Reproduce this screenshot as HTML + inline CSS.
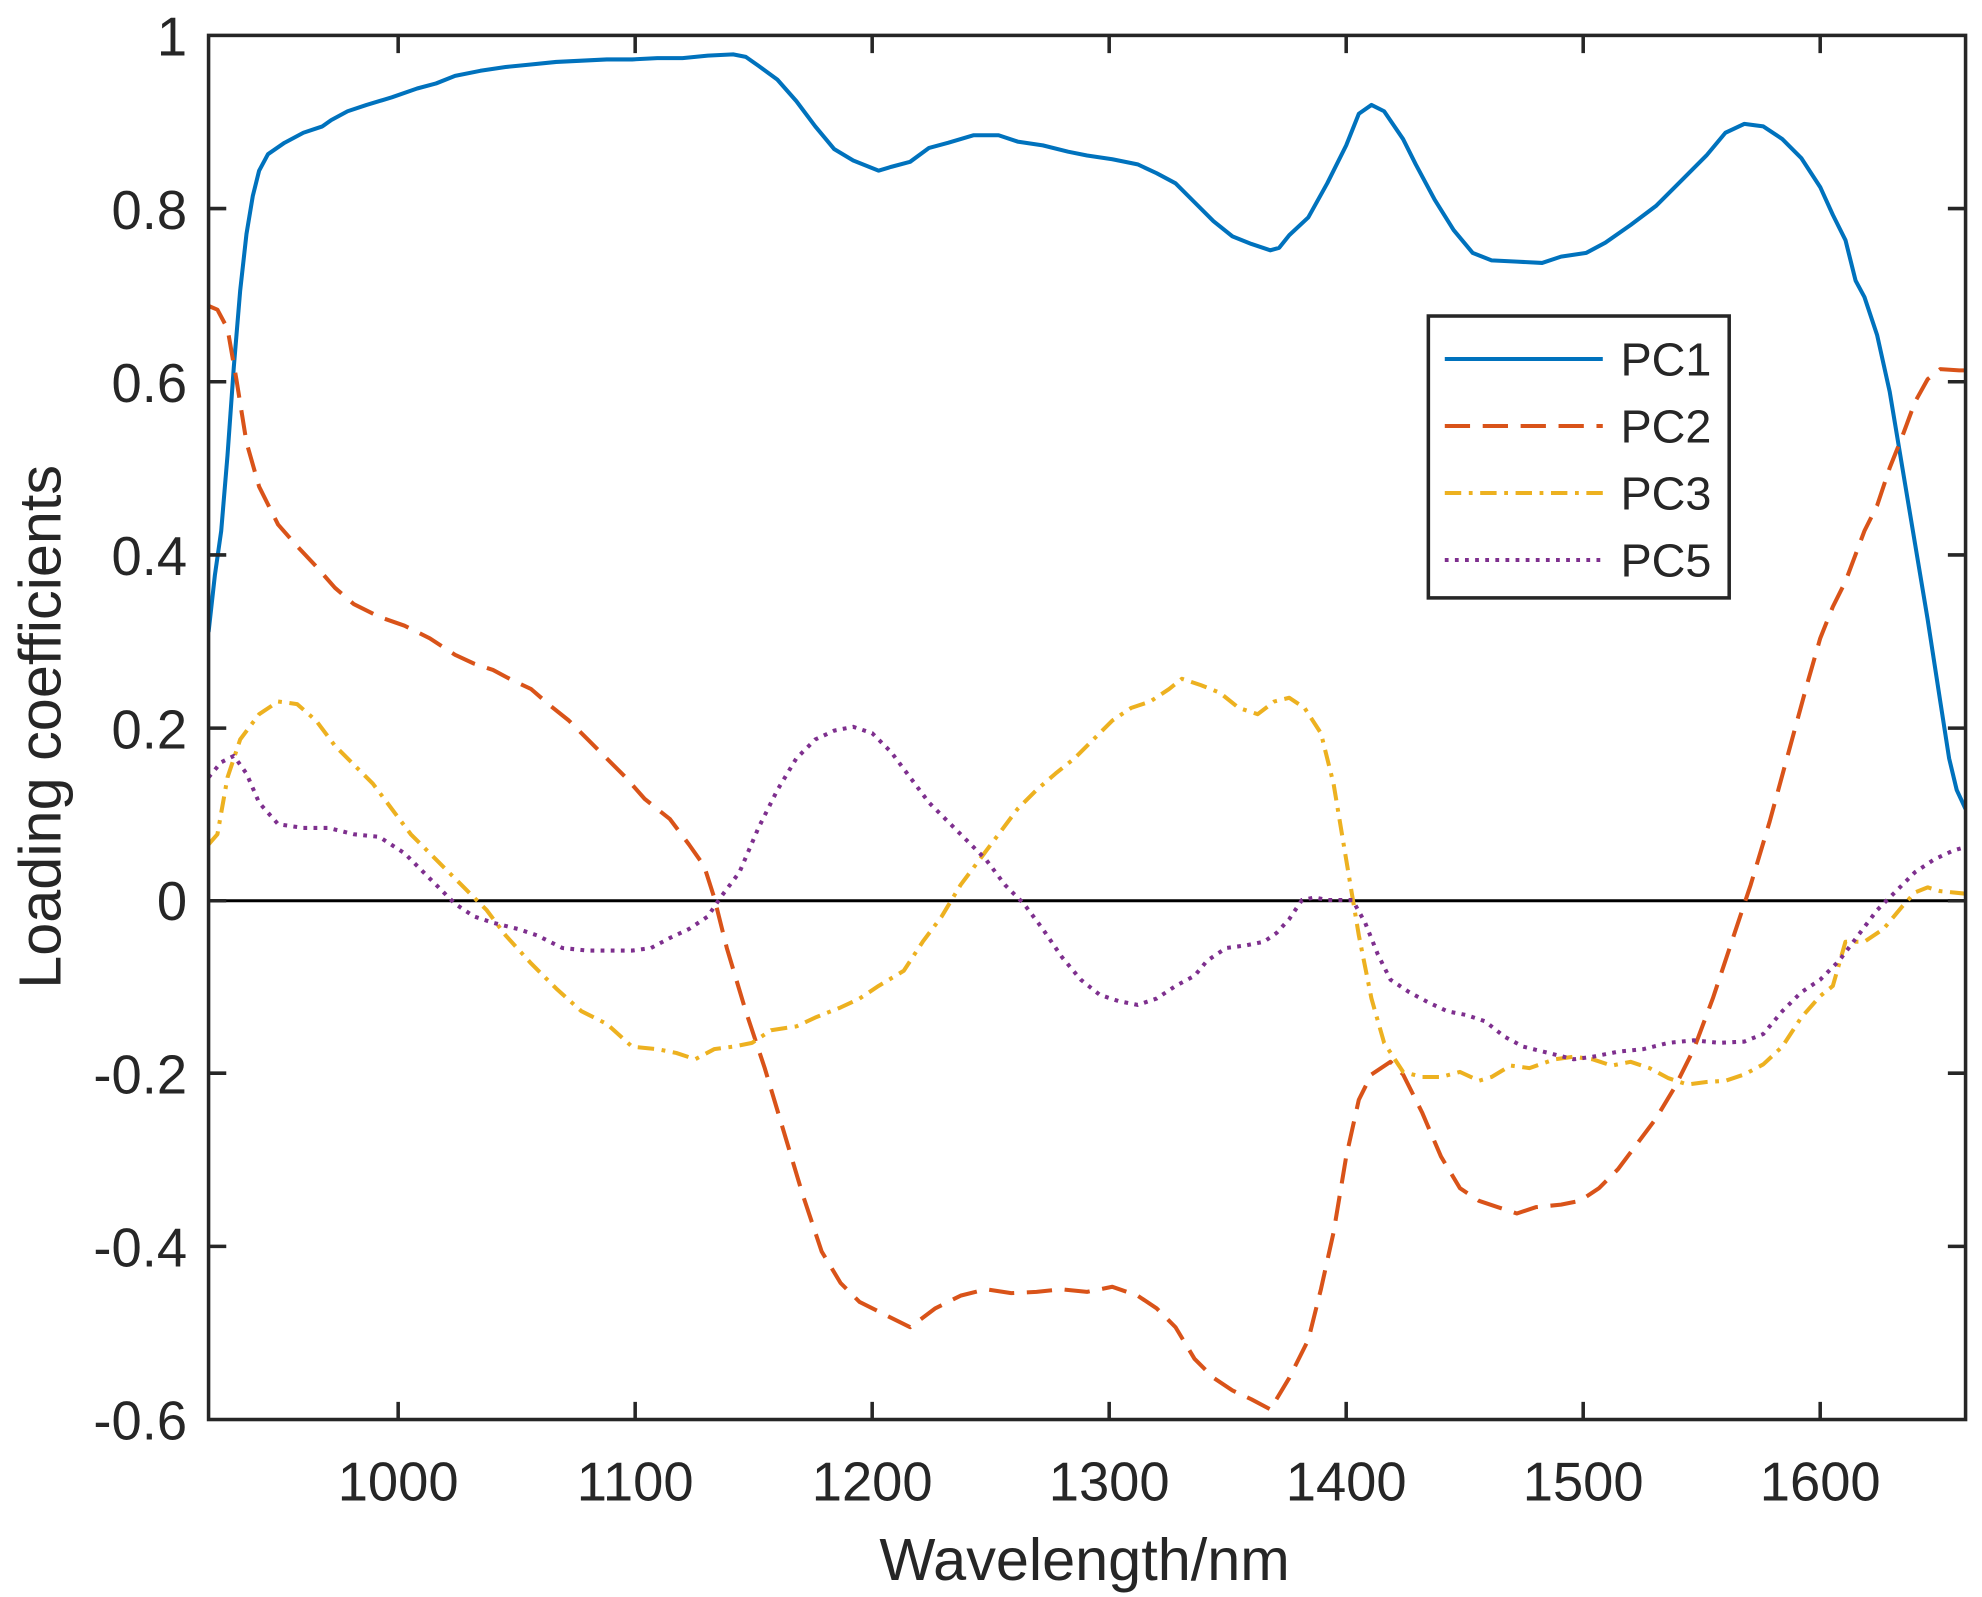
<!DOCTYPE html>
<html><head><style>html,body{margin:0;padding:0;background:#fff;}svg{display:block;}</style></head>
<body>
<svg width="1982" height="1597" viewBox="0 0 1568 1263.4" xmlns="http://www.w3.org/2000/svg" font-family="Liberation Sans, sans-serif" fill="#262626">
<defs><clipPath id="c"><rect x="165" y="28" width="1390" height="1095"/></clipPath></defs>
<g clip-path="url(#c)" fill="none" stroke-width="3.2" stroke-linejoin="round">
<line x1="165" y1="712.6" x2="1555" y2="712.6" stroke="#000" stroke-width="2.4"/>
<polyline stroke="#0072BD" points="165,500 170,455 175,420 180,360 185,290 190,230 195,185 200,155 205,135 212,122 225,113 240,105 255,100 262,95 275,88 290,83 310,77 330,70 345,66 360,60 380,56 400,53 420,51 440,49 460,48 480,47 500,47 520,46 540,46 560,44 580,43 590,45 600,52 615,63 630,80 645,100 660,118 675,127 695,135 705,132 720,128 735,117 750,113 770,107 790,107 805,112 825,115 845,120 860,123 880,126 900,130 915,137 930,145 945,160 960,175 975,187 990,193 1005,198 1012,196 1020,186 1035,172 1050,145 1065,115 1075,90 1085,83 1095,88 1110,110 1120,130 1135,158 1150,182 1165,200 1180,206 1200,207 1220,208 1235,203 1255,200 1270,192 1290,178 1310,163 1330,143 1350,123 1365,105 1380,98 1395,100 1410,110 1425,125 1440,148 1450,170 1460,190 1468,222 1475,235 1485,265 1495,310 1505,370 1515,430 1525,490 1535,555 1542,600 1548,625 1555,640"/>
<polyline stroke="#D95319" stroke-dasharray="20,10" points="165,242 172,245 180,260 187,300 195,350 205,385 220,415 235,432 250,448 265,465 280,478 300,488 320,495 340,505 360,518 375,525 390,530 405,538 420,545 435,558 450,570 465,585 480,600 495,615 510,632 530,648 545,668 557,685 565,710 575,750 590,800 605,845 620,895 635,945 650,990 665,1015 680,1030 700,1040 720,1050 740,1035 760,1025 780,1020 800,1023 820,1022 840,1020 860,1022 880,1018 900,1025 915,1035 930,1050 945,1075 960,1090 975,1100 990,1107 1005,1115 1020,1090 1035,1060 1045,1020 1055,975 1065,915 1075,870 1085,850 1100,840 1110,850 1125,880 1140,915 1155,940 1170,950 1185,955 1200,960 1215,955 1235,953 1250,950 1265,940 1280,925 1295,905 1310,885 1325,860 1340,830 1355,790 1370,745 1385,700 1400,650 1415,595 1430,540 1440,505 1450,480 1460,460 1475,420 1485,400 1495,370 1505,345 1515,318 1525,300 1535,292 1550,293 1555,293"/>
<polyline stroke="#EDB120" stroke-dasharray="13,6,3,6" points="165,668 172,660 180,615 190,585 205,565 220,555 235,557 250,570 265,590 280,605 295,620 310,640 325,660 345,680 365,700 385,720 400,740 420,762 440,782 460,800 480,810 500,828 520,830 535,833 550,838 565,830 580,828 595,825 610,815 630,812 645,805 665,797 680,790 695,780 715,768 730,745 745,725 760,700 775,680 790,660 805,640 820,625 835,612 850,600 865,585 880,570 895,560 910,555 925,545 935,537 950,542 965,548 980,560 995,565 1008,555 1020,552 1032,560 1045,580 1055,620 1065,680 1075,740 1085,790 1095,825 1110,848 1125,852 1140,852 1155,848 1170,855 1180,852 1195,843 1210,845 1230,838 1245,836 1260,838 1275,843 1290,840 1305,845 1320,853 1335,858 1350,856 1365,855 1380,850 1395,842 1410,828 1425,805 1440,788 1450,780 1460,745 1475,745 1490,735 1505,717 1515,706 1525,702 1535,705 1555,707"/>
<polyline stroke="#7E2F8E" stroke-dasharray="3,5" points="165,615 175,603 185,598 195,612 205,635 220,652 240,655 260,655 280,660 300,662 320,675 340,695 360,715 375,725 390,730 410,735 425,740 445,750 465,752 480,752 500,752 515,750 530,742 545,735 560,725 570,710 585,690 600,655 615,625 630,600 645,585 660,578 675,575 690,580 705,595 720,615 735,635 750,650 765,665 780,680 795,700 810,715 825,735 840,757 855,775 870,787 885,792 900,795 915,790 930,780 945,772 955,760 970,750 985,748 1000,745 1010,738 1020,727 1030,712 1040,710 1050,712 1060,712 1070,712 1080,730 1090,755 1100,775 1115,785 1130,793 1145,800 1160,803 1175,808 1190,820 1205,828 1225,833 1245,838 1260,836 1280,832 1300,830 1320,825 1340,823 1360,825 1380,824 1395,818 1410,800 1425,785 1440,775 1455,760 1470,740 1485,720 1500,705 1515,690 1530,680 1545,673 1555,670"/>
</g>
<g stroke="#262626" stroke-width="2.8" fill="none">
<rect x="165" y="28" width="1390" height="1095"/>
<path d="M315,1123v-14M502.5,1123v-14M690,1123v-14M877.5,1123v-14M1065,1123v-14M1252.5,1123v-14M1440,1123v-14M315,28v14M502.5,28v14M690,28v14M877.5,28v14M1065,28v14M1252.5,28v14M1440,28v14"/>
<path d="M165,165h14M165,302h14M165,439h14M165,576h14M165,712.6h14M165,849h14M165,986h14M1555,165h-14M1555,302h-14M1555,439h-14M1555,576h-14M1555,712.6h-14M1555,849h-14M1555,986h-14"/>
</g>
<g font-size="43" text-anchor="end">
<text x="148" y="44">1</text><text x="148" y="181">0.8</text><text x="148" y="318">0.6</text><text x="148" y="455">0.4</text><text x="148" y="592">0.2</text><text x="148" y="728">0</text><text x="148" y="865">-0.2</text><text x="148" y="1002">-0.4</text><text x="148" y="1139">-0.6</text>
</g>
<g font-size="43" text-anchor="middle">
<text x="315" y="1187">1000</text><text x="502.5" y="1187">1100</text><text x="690" y="1187">1200</text><text x="877.5" y="1187">1300</text><text x="1065" y="1187">1400</text><text x="1252.5" y="1187">1500</text><text x="1440" y="1187">1600</text>
</g>
<text x="858" y="1250" font-size="47" text-anchor="middle">Wavelength/nm</text>
<text transform="translate(48,575) rotate(-90)" font-size="47" text-anchor="middle">Loading coefficients</text>
<rect x="1130" y="250" width="238" height="223" fill="#fff" stroke="#262626" stroke-width="2.8"/>
<g fill="none" stroke-width="3.2">
<line x1="1143" y1="284" x2="1268" y2="284" stroke="#0072BD"/>
<line x1="1143" y1="337" x2="1268" y2="337" stroke="#D95319" stroke-dasharray="20,10"/>
<line x1="1143" y1="390" x2="1268" y2="390" stroke="#EDB120" stroke-dasharray="13,6,3,6"/>
<line x1="1143" y1="443" x2="1268" y2="443" stroke="#7E2F8E" stroke-dasharray="3,5"/>
</g>
<g font-size="37"><text x="1282" y="297">PC1</text><text x="1282" y="350">PC2</text><text x="1282" y="403">PC3</text><text x="1282" y="456">PC5</text></g>
</svg>
</body></html>
